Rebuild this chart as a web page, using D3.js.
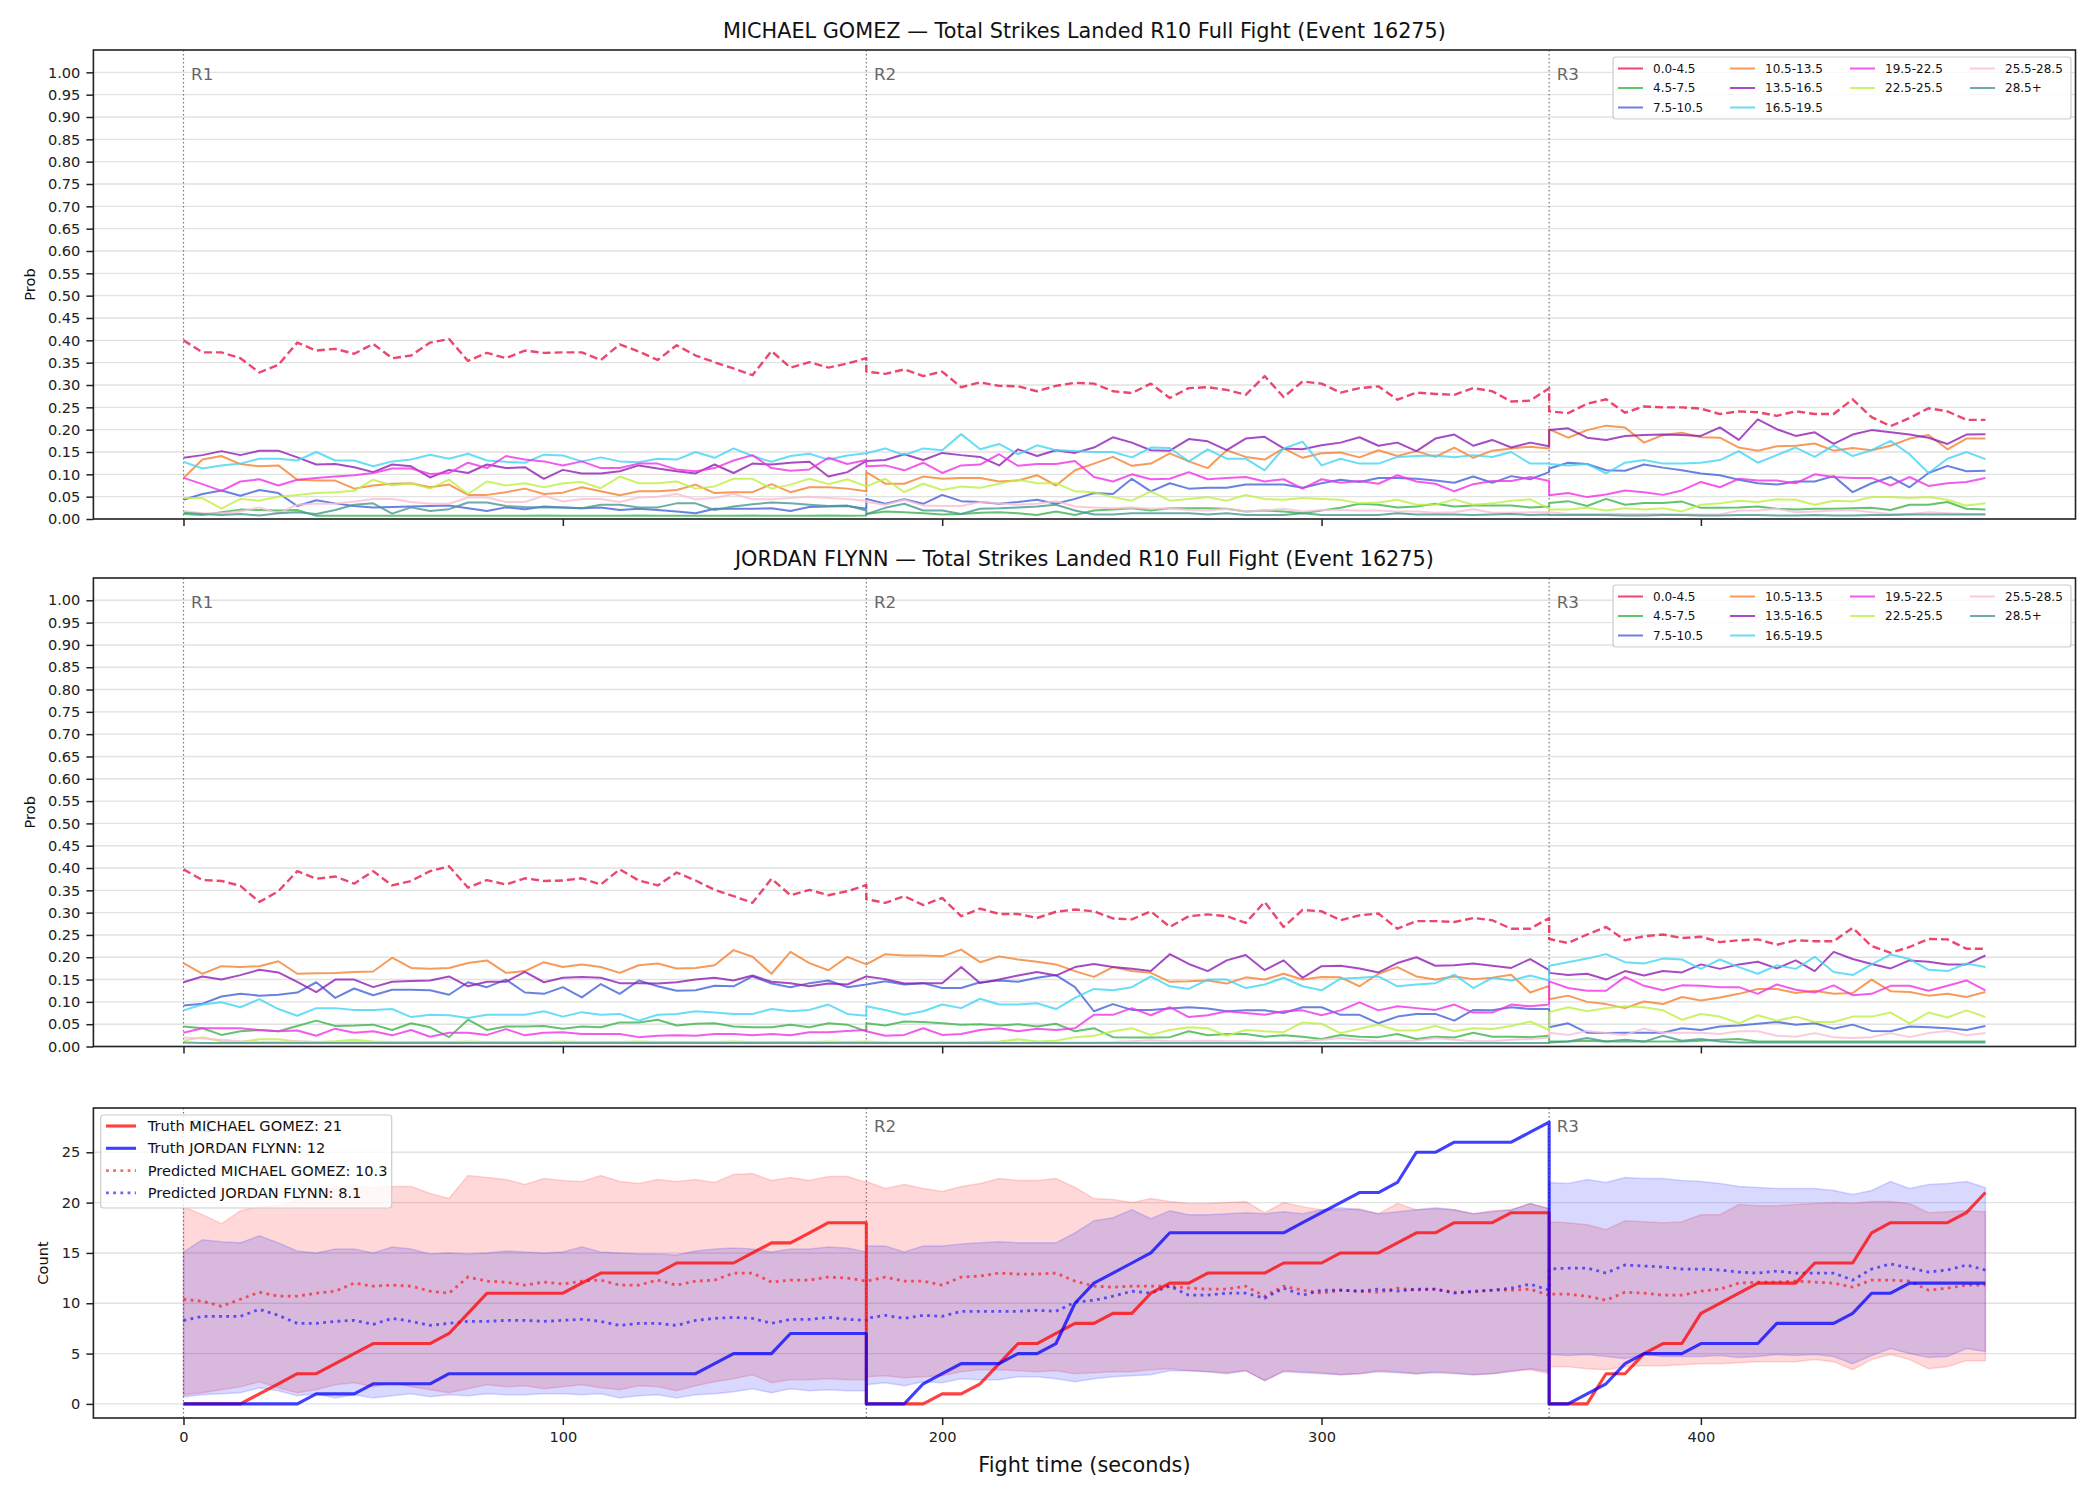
<!DOCTYPE html>
<html lang="en">
<head>
<meta charset="UTF-8">
<title>Total Strikes Landed R10 Full Fight</title>
<script src="https://d3js.org/d3.v7.min.js"></script>
<style>
  body { margin: 0; background: #fff; }
  svg { display: block; font-family: "DejaVu Sans", sans-serif; }
</style>
</head>
<body>
<div id="chart"></div>
<script>
// fight time (s); round boundaries appear twice so the lines drop at 180 and 360
const TIME = [
  0,5,10,15,20,25,30,35,40,45,50,55,60,65,70,75,80,85,90,95,100,105,110,115,120,125,130,135,140,145,150,155,160,165,170,175,180,
  180,185,190,195,200,205,210,215,220,225,230,235,240,245,250,255,260,265,270,275,280,285,290,295,300,305,310,315,320,325,330,335,340,345,350,355,360,
  360,365,370,375,380,385,390,395,400,405,410,415,420,425,430,435,440,445,450,455,460,465,470,475
];

const BUCKETS = ["0.0-4.5", "4.5-7.5", "7.5-10.5", "10.5-13.5", "13.5-16.5", "16.5-19.5", "19.5-22.5", "22.5-25.5", "25.5-28.5", "28.5+"];
const BUCKET_COLORS = ["#e6194b", "#3cb44b", "#4363d8", "#f58231", "#911eb4", "#42d4f4", "#f032e6", "#bfef45", "#fabed4", "#469990"];

const TITLES = [
  "MICHAEL GOMEZ \u2014 Total Strikes Landed R10 Full Fight (Event 16275)",
  "JORDAN FLYNN \u2014 Total Strikes Landed R10 Full Fight (Event 16275)"
];
const ROUNDS = [0, 180, 360];
const ROUND_LABELS = ["R1", "R2", "R3"];
const TIME_TICKS = [0, 100, 200, 300, 400];
const PROB_TICKS = [0, 0.05, 0.1, 0.15, 0.2, 0.25, 0.3, 0.35, 0.4, 0.45, 0.5, 0.55, 0.6, 0.65, 0.7, 0.75, 0.8, 0.85, 0.9, 0.95, 1.0];
const COUNT_TICKS = [0, 5, 10, 15, 20, 25];
const LEGEND3 = ["Truth MICHAEL GOMEZ: 21", "Truth JORDAN FLYNN: 12", "Predicted MICHAEL GOMEZ: 10.3", "Predicted JORDAN FLYNN: 8.1"];

// ---- MICHAEL GOMEZ bucket probabilities ----
const g_0_4 = [
  0.40,0.373,0.373,0.36,0.328,0.345,0.395,0.377,0.381,0.37,0.392,0.36,0.366,0.395,0.403,0.354,0.372,0.36,0.377,0.372,0.373,0.373,0.356,0.391,0.375,0.356,0.389,0.366,0.351,0.337,0.322,0.376,0.339,0.351,0.339,0.348,0.36,
  0.33,0.325,0.335,0.32,0.33,0.295,0.306,0.298,0.297,0.286,0.298,0.305,0.303,0.286,0.282,0.303,0.271,0.293,0.295,0.289,0.278,0.32,0.273,0.308,0.303,0.283,0.293,0.297,0.267,0.283,0.28,0.278,0.293,0.286,0.263,0.265,0.293,
  0.241,0.237,0.258,0.268,0.238,0.252,0.25,0.25,0.247,0.235,0.241,0.239,0.231,0.241,0.235,0.235,0.268,0.228,0.208,0.226,0.248,0.241,0.222,0.222
];
const g_4_7 = [
  0.011,0.009,0.015,0.021,0.02,0.019,0.02,0.007,0.007,0.007,0.007,0.007,0.007,0.007,0.007,0.007,0.007,0.007,0.007,0.008,0.007,0.007,0.007,0.007,0.008,0.007,0.007,0.007,0.007,0.007,0.008,0.007,0.007,0.007,0.008,0.007,0.008,
  0.011,0.017,0.015,0.013,0.01,0.011,0.014,0.015,0.013,0.009,0.017,0.009,0.019,0.021,0.024,0.019,0.024,0.024,0.024,0.023,0.017,0.019,0.017,0.013,0.019,0.025,0.034,0.032,0.026,0.028,0.034,0.028,0.03,0.03,0.03,0.026,0.028,
  0.036,0.04,0.029,0.045,0.032,0.036,0.036,0.039,0.025,0.025,0.026,0.028,0.023,0.021,0.023,0.023,0.024,0.025,0.02,0.032,0.032,0.038,0.023,0.021
];
const g_7_10 = [
  0.043,0.056,0.064,0.052,0.065,0.058,0.029,0.042,0.035,0.029,0.026,0.027,0.028,0.029,0.03,0.024,0.018,0.026,0.022,0.028,0.026,0.024,0.026,0.02,0.023,0.02,0.017,0.013,0.023,0.023,0.023,0.024,0.018,0.027,0.028,0.029,0.023,
  0.045,0.034,0.044,0.034,0.054,0.04,0.038,0.034,0.038,0.043,0.034,0.045,0.058,0.056,0.09,0.062,0.08,0.068,0.07,0.07,0.077,0.077,0.077,0.07,0.08,0.088,0.083,0.092,0.092,0.09,0.086,0.081,0.095,0.081,0.096,0.089,0.105,
  0.113,0.126,0.123,0.109,0.108,0.122,0.115,0.109,0.102,0.098,0.088,0.08,0.077,0.084,0.084,0.096,0.06,0.08,0.094,0.071,0.103,0.119,0.107,0.108
];
const g_10_13 = [
  0.092,0.133,0.141,0.123,0.118,0.12,0.088,0.086,0.086,0.068,0.075,0.079,0.08,0.071,0.077,0.054,0.054,0.06,0.068,0.056,0.059,0.071,0.062,0.053,0.062,0.062,0.065,0.077,0.058,0.06,0.06,0.078,0.06,0.071,0.071,0.068,0.062,
  0.105,0.079,0.079,0.095,0.09,0.092,0.092,0.084,0.086,0.098,0.075,0.109,0.124,0.139,0.119,0.124,0.147,0.129,0.114,0.154,0.139,0.133,0.158,0.137,0.147,0.149,0.138,0.154,0.141,0.152,0.139,0.16,0.137,0.153,0.158,0.162,0.158,
  0.201,0.182,0.199,0.209,0.205,0.171,0.188,0.193,0.183,0.182,0.16,0.153,0.163,0.164,0.169,0.153,0.159,0.154,0.164,0.18,0.188,0.156,0.18,0.18
];
const g_13_16 = [
  0.137,0.143,0.152,0.143,0.153,0.153,0.138,0.122,0.123,0.116,0.105,0.122,0.118,0.093,0.11,0.103,0.122,0.114,0.116,0.09,0.11,0.102,0.102,0.107,0.12,0.113,0.107,0.102,0.122,0.103,0.124,0.122,0.126,0.128,0.095,0.105,0.13,
  0.13,0.132,0.145,0.132,0.148,0.143,0.139,0.12,0.156,0.141,0.154,0.148,0.16,0.183,0.171,0.154,0.153,0.179,0.174,0.154,0.18,0.184,0.158,0.156,0.165,0.171,0.183,0.164,0.171,0.152,0.18,0.189,0.164,0.177,0.16,0.171,0.163,
  0.199,0.203,0.182,0.177,0.186,0.188,0.189,0.188,0.186,0.205,0.177,0.223,0.201,0.186,0.194,0.168,0.189,0.199,0.194,0.189,0.182,0.168,0.189,0.19
];
const g_16_19 = [
  0.128,0.113,0.12,0.124,0.135,0.135,0.131,0.15,0.131,0.131,0.118,0.129,0.133,0.144,0.135,0.146,0.131,0.128,0.126,0.144,0.142,0.129,0.138,0.129,0.127,0.135,0.133,0.15,0.137,0.158,0.141,0.128,0.141,0.146,0.133,0.142,0.147,
  0.147,0.158,0.143,0.158,0.154,0.19,0.156,0.168,0.145,0.165,0.154,0.152,0.15,0.15,0.138,0.16,0.159,0.129,0.156,0.135,0.135,0.109,0.158,0.173,0.12,0.135,0.124,0.124,0.139,0.141,0.142,0.138,0.143,0.139,0.15,0.124,0.124,
  0.123,0.12,0.123,0.102,0.126,0.132,0.124,0.124,0.126,0.132,0.152,0.126,0.143,0.16,0.139,0.165,0.141,0.154,0.175,0.145,0.103,0.135,0.15,0.134
];
const g_19_22 = [
  0.092,0.078,0.063,0.084,0.089,0.075,0.088,0.092,0.095,0.098,0.103,0.113,0.113,0.101,0.103,0.126,0.114,0.141,0.133,0.129,0.12,0.129,0.114,0.114,0.124,0.124,0.111,0.107,0.114,0.131,0.143,0.114,0.108,0.111,0.137,0.123,0.132,
  0.118,0.12,0.109,0.126,0.103,0.12,0.122,0.145,0.119,0.123,0.123,0.13,0.094,0.084,0.1,0.089,0.09,0.105,0.089,0.092,0.094,0.084,0.089,0.068,0.089,0.081,0.085,0.079,0.098,0.084,0.079,0.062,0.078,0.085,0.085,0.094,0.085,
  0.053,0.058,0.049,0.055,0.064,0.06,0.054,0.064,0.083,0.071,0.09,0.086,0.086,0.08,0.1,0.094,0.092,0.092,0.075,0.094,0.074,0.08,0.083,0.092
];
const g_22_25 = [
  0.047,0.047,0.023,0.045,0.041,0.05,0.054,0.058,0.06,0.063,0.088,0.075,0.08,0.068,0.088,0.056,0.084,0.075,0.08,0.071,0.08,0.083,0.069,0.095,0.08,0.08,0.084,0.068,0.073,0.09,0.09,0.068,0.077,0.09,0.078,0.089,0.073,
  0.073,0.09,0.06,0.079,0.065,0.073,0.07,0.079,0.088,0.08,0.08,0.062,0.06,0.049,0.041,0.062,0.041,0.045,0.049,0.041,0.054,0.045,0.043,0.047,0.045,0.043,0.035,0.037,0.043,0.032,0.032,0.044,0.032,0.035,0.041,0.044,0.023,
  0.021,0.021,0.025,0.019,0.024,0.021,0.024,0.017,0.032,0.035,0.041,0.038,0.044,0.043,0.032,0.041,0.039,0.049,0.049,0.047,0.049,0.043,0.03,0.035
];
const g_25_28 = [
  0.018,0.013,0.013,0.017,0.026,0.013,0.032,0.034,0.034,0.039,0.045,0.045,0.038,0.034,0.034,0.048,0.048,0.038,0.038,0.052,0.039,0.045,0.045,0.038,0.048,0.05,0.056,0.044,0.047,0.056,0.044,0.044,0.047,0.05,0.047,0.045,0.041,
  0.038,0.032,0.043,0.03,0.029,0.029,0.038,0.035,0.032,0.034,0.04,0.028,0.026,0.024,0.026,0.023,0.024,0.02,0.019,0.023,0.017,0.019,0.023,0.017,0.02,0.02,0.019,0.019,0.017,0.017,0.014,0.015,0.022,0.014,0.014,0.015,0.015,
  0.015,0.011,0.011,0.011,0.011,0.011,0.011,0.01,0.01,0.01,0.019,0.019,0.023,0.015,0.017,0.019,0.02,0.015,0.011,0.011,0.015,0.013,0.011,0.011
];
const g_28p = [
  0.014,0.011,0.009,0.011,0.008,0.013,0.015,0.011,0.02,0.032,0.035,0.012,0.026,0.018,0.022,0.037,0.037,0.029,0.027,0.026,0.026,0.024,0.032,0.032,0.026,0.026,0.035,0.035,0.02,0.028,0.033,0.037,0.035,0.032,0.029,0.03,0.019,
  0.011,0.025,0.034,0.019,0.019,0.011,0.023,0.024,0.026,0.028,0.032,0.019,0.01,0.01,0.013,0.013,0.013,0.013,0.01,0.013,0.009,0.009,0.009,0.013,0.009,0.009,0.009,0.009,0.013,0.01,0.01,0.01,0.009,0.01,0.011,0.009,0.01,
  0.009,0.009,0.009,0.009,0.008,0.008,0.009,0.009,0.008,0.008,0.009,0.009,0.008,0.008,0.009,0.008,0.008,0.009,0.009,0.01,0.01,0.01,0.01,0.01
];

// ---- JORDAN FLYNN bucket probabilities ----
const f_0_4 = [
  0.397,0.373,0.371,0.36,0.324,0.348,0.393,0.376,0.381,0.365,0.393,0.361,0.371,0.393,0.404,0.356,0.373,0.363,0.377,0.371,0.372,0.377,0.363,0.397,0.372,0.361,0.39,0.372,0.351,0.337,0.322,0.376,0.339,0.351,0.339,0.348,0.362,
  0.33,0.322,0.337,0.317,0.333,0.292,0.309,0.297,0.297,0.288,0.302,0.307,0.303,0.287,0.285,0.303,0.268,0.292,0.296,0.292,0.277,0.324,0.268,0.306,0.303,0.283,0.294,0.298,0.264,0.281,0.281,0.279,0.288,0.283,0.264,0.264,0.288,
  0.241,0.232,0.251,0.268,0.238,0.247,0.251,0.243,0.246,0.234,0.238,0.24,0.228,0.238,0.236,0.236,0.266,0.225,0.21,0.223,0.241,0.24,0.219,0.219
];
const f_4_7 = [
  0.045,0.041,0.026,0.034,0.037,0.034,0.046,0.058,0.046,0.047,0.049,0.037,0.052,0.043,0.021,0.06,0.037,0.045,0.045,0.046,0.04,0.045,0.043,0.054,0.054,0.06,0.047,0.051,0.052,0.045,0.043,0.043,0.049,0.043,0.052,0.049,0.034,
  0.052,0.047,0.056,0.055,0.052,0.049,0.05,0.047,0.05,0.045,0.051,0.034,0.041,0.021,0.02,0.02,0.021,0.034,0.025,0.028,0.028,0.022,0.025,0.022,0.017,0.026,0.022,0.021,0.028,0.017,0.022,0.02,0.031,0.022,0.022,0.021,0.024,
  0.011,0.011,0.013,0.011,0.011,0.011,0.011,0.011,0.013,0.015,0.017,0.011,0.011,0.011,0.011,0.011,0.011,0.011,0.011,0.011,0.011,0.011,0.011,0.011
];
const f_7_10 = [
  0.092,0.096,0.112,0.118,0.114,0.116,0.121,0.144,0.109,0.13,0.115,0.127,0.127,0.126,0.116,0.144,0.133,0.15,0.121,0.118,0.133,0.11,0.14,0.118,0.148,0.135,0.125,0.126,0.136,0.135,0.157,0.141,0.133,0.142,0.148,0.133,0.139,
  0.139,0.146,0.139,0.142,0.131,0.131,0.144,0.148,0.145,0.154,0.16,0.133,0.079,0.095,0.082,0.082,0.085,0.088,0.085,0.079,0.081,0.081,0.075,0.088,0.088,0.071,0.071,0.052,0.067,0.073,0.073,0.058,0.082,0.081,0.088,0.084,0.084,
  0.043,0.052,0.031,0.03,0.031,0.031,0.031,0.041,0.037,0.045,0.047,0.051,0.055,0.049,0.052,0.04,0.049,0.035,0.034,0.045,0.043,0.041,0.037,0.046
];
const f_10_13 = [
  0.187,0.163,0.18,0.178,0.18,0.191,0.163,0.164,0.165,0.167,0.168,0.199,0.176,0.174,0.176,0.187,0.193,0.165,0.169,0.189,0.178,0.184,0.178,0.165,0.182,0.186,0.175,0.176,0.182,0.216,0.201,0.163,0.212,0.187,0.171,0.201,0.184,
  0.184,0.207,0.204,0.204,0.202,0.217,0.189,0.202,0.195,0.19,0.184,0.169,0.156,0.178,0.169,0.165,0.145,0.146,0.148,0.141,0.155,0.15,0.163,0.15,0.156,0.155,0.135,0.163,0.178,0.157,0.15,0.157,0.151,0.154,0.161,0.121,0.136,
  0.106,0.114,0.1,0.095,0.086,0.101,0.095,0.111,0.103,0.11,0.118,0.129,0.129,0.12,0.125,0.118,0.12,0.15,0.124,0.122,0.114,0.118,0.111,0.122
];
const f_13_16 = [
  0.144,0.157,0.15,0.16,0.172,0.166,0.145,0.122,0.15,0.15,0.133,0.145,0.147,0.148,0.157,0.135,0.145,0.145,0.167,0.144,0.154,0.156,0.154,0.142,0.142,0.141,0.144,0.15,0.154,0.148,0.159,0.145,0.142,0.135,0.141,0.139,0.157,
  0.157,0.151,0.141,0.142,0.142,0.178,0.142,0.15,0.159,0.167,0.159,0.178,0.185,0.178,0.174,0.169,0.207,0.185,0.169,0.193,0.205,0.171,0.193,0.154,0.18,0.181,0.175,0.166,0.187,0.2,0.181,0.182,0.186,0.181,0.176,0.196,0.171,
  0.165,0.16,0.163,0.15,0.169,0.159,0.169,0.166,0.184,0.174,0.184,0.19,0.175,0.193,0.169,0.212,0.196,0.185,0.175,0.193,0.19,0.184,0.184,0.204
];
const f_16_19 = [
  0.081,0.094,0.099,0.088,0.106,0.084,0.069,0.086,0.086,0.082,0.082,0.084,0.066,0.071,0.07,0.064,0.071,0.071,0.071,0.079,0.067,0.077,0.071,0.073,0.058,0.071,0.073,0.079,0.076,0.073,0.073,0.084,0.079,0.082,0.094,0.073,0.069,
  0.09,0.082,0.071,0.079,0.094,0.086,0.107,0.094,0.094,0.097,0.084,0.109,0.129,0.126,0.133,0.157,0.135,0.129,0.15,0.15,0.131,0.139,0.154,0.135,0.126,0.152,0.154,0.157,0.135,0.139,0.142,0.161,0.131,0.154,0.148,0.159,0.148,
  0.181,0.189,0.197,0.207,0.189,0.186,0.197,0.195,0.174,0.195,0.178,0.163,0.182,0.174,0.201,0.167,0.16,0.184,0.206,0.196,0.172,0.169,0.186,0.178
];
const f_19_22 = [
  0.031,0.041,0.041,0.041,0.037,0.034,0.036,0.024,0.04,0.031,0.034,0.025,0.037,0.022,0.031,0.031,0.026,0.039,0.025,0.031,0.032,0.028,0.028,0.028,0.021,0.024,0.025,0.024,0.028,0.028,0.025,0.028,0.025,0.032,0.032,0.035,0.037,
  0.034,0.024,0.026,0.041,0.026,0.028,0.037,0.041,0.034,0.04,0.037,0.041,0.071,0.071,0.086,0.07,0.088,0.066,0.07,0.079,0.075,0.071,0.079,0.081,0.07,0.081,0.099,0.081,0.09,0.086,0.082,0.094,0.076,0.076,0.094,0.09,0.094,
  0.146,0.131,0.125,0.125,0.156,0.136,0.126,0.137,0.136,0.133,0.133,0.118,0.139,0.127,0.121,0.137,0.115,0.118,0.136,0.136,0.125,0.136,0.148,0.126
];
const f_22_25 = [
  0.013,0.021,0.011,0.01,0.016,0.016,0.011,0.01,0.012,0.015,0.011,0.01,0.01,0.01,0.01,0.011,0.01,0.01,0.01,0.01,0.011,0.01,0.01,0.01,0.011,0.01,0.01,0.01,0.01,0.011,0.01,0.01,0.01,0.01,0.011,0.01,0.011,
  0.011,0.009,0.009,0.009,0.009,0.009,0.01,0.011,0.016,0.011,0.013,0.021,0.024,0.034,0.041,0.026,0.037,0.043,0.041,0.024,0.037,0.034,0.032,0.054,0.051,0.03,0.04,0.049,0.036,0.036,0.046,0.034,0.041,0.039,0.046,0.056,0.037,
  0.077,0.088,0.079,0.086,0.09,0.088,0.081,0.06,0.073,0.067,0.052,0.07,0.058,0.067,0.055,0.055,0.067,0.067,0.076,0.052,0.076,0.065,0.081,0.066
];
const f_25_28 = [
  0.02,0.018,0.015,0.012,0.01,0.01,0.012,0.01,0.01,0.01,0.01,0.009,0.009,0.01,0.009,0.009,0.01,0.009,0.009,0.009,0.01,0.009,0.009,0.01,0.009,0.009,0.01,0.009,0.009,0.009,0.009,0.009,0.01,0.009,0.009,0.01,0.01,
  0.01,0.009,0.009,0.009,0.009,0.009,0.009,0.009,0.009,0.009,0.009,0.009,0.009,0.01,0.012,0.014,0.012,0.012,0.013,0.012,0.012,0.01,0.01,0.012,0.015,0.019,0.015,0.012,0.012,0.013,0.019,0.015,0.012,0.012,0.015,0.017,0.02,
  0.031,0.026,0.035,0.03,0.026,0.04,0.031,0.031,0.031,0.028,0.034,0.034,0.024,0.022,0.03,0.021,0.019,0.021,0.03,0.021,0.03,0.035,0.025,0.03
];
const f_28p = [
  0.009,0.008,0.008,0.008,0.008,0.008,0.008,0.008,0.008,0.008,0.008,0.008,0.008,0.008,0.008,0.008,0.008,0.008,0.008,0.008,0.008,0.008,0.008,0.008,0.008,0.008,0.008,0.008,0.008,0.008,0.008,0.008,0.008,0.008,0.008,0.008,0.008,
  0.008,0.008,0.008,0.008,0.008,0.008,0.008,0.008,0.008,0.008,0.008,0.008,0.008,0.008,0.008,0.008,0.008,0.008,0.008,0.008,0.008,0.008,0.008,0.008,0.008,0.008,0.008,0.008,0.008,0.008,0.008,0.008,0.008,0.008,0.008,0.008,0.008,
  0.009,0.011,0.019,0.011,0.015,0.011,0.024,0.013,0.017,0.011,0.009,0.009,0.009,0.009,0.009,0.009,0.009,0.009,0.009,0.009,0.009,0.009,0.009,0.009
];

// ---- running counts (reset each round) ----
const truthGomez = [
  0,0,0,0,1,2,3,3,4,5,6,6,6,6,7,9,11,11,11,11,11,12,13,13,13,13,14,14,14,14,15,16,16,17,18,18,18,
  0,0,0,0,1,1,2,4,6,6,7,8,8,9,9,11,12,12,13,13,13,13,14,14,14,15,15,15,16,17,17,18,18,18,19,19,19,
  0,0,0,3,3,5,6,6,9,10,11,12,12,12,14,14,14,17,18,18,18,18,19,21
];
const truthFlynn = [
  0,0,0,0,0,0,0,1,1,1,2,2,2,2,3,3,3,3,3,3,3,3,3,3,3,3,3,3,4,5,5,5,7,7,7,7,7,
  0,0,0,2,3,4,4,4,5,5,6,10,12,13,14,15,17,17,17,17,17,17,17,18,19,20,21,21,22,25,25,26,26,26,26,27,28,
  0,0,1,2,4,5,5,5,6,6,6,6,8,8,8,8,9,11,11,12,12,12,12,12
];
const predGomez = [
  10.4,10.2,9.7,10.4,11.1,10.7,10.7,11.0,11.2,12.0,11.7,11.8,11.7,11.2,11.0,12.6,12.2,12.1,11.8,12.1,11.9,12.2,12.3,11.8,11.8,12.3,11.8,12.2,12.3,13.0,13.0,12.1,12.3,12.3,12.6,12.5,12.2,
  12.2,12.6,12.2,12.2,11.8,12.6,12.7,13.0,12.9,12.9,13.0,12.2,11.7,11.6,11.7,11.7,11.7,11.5,11.4,11.4,11.7,10.7,11.7,11.3,11.0,11.3,11.2,11.1,11.5,11.3,11.4,11.1,11.1,11.3,11.3,11.4,10.8,
  10.9,10.9,10.7,10.3,11.1,11.0,10.8,10.8,11.2,11.4,12.0,12.1,12.1,12.2,12.1,12.0,11.6,12.3,12.3,12.2,11.3,11.5,11.8,11.8
];
const predFlynn = [
  8.3,8.7,8.7,8.7,9.4,8.8,8.0,8.0,8.2,8.3,7.9,8.5,8.2,7.8,8.0,8.2,8.2,8.3,8.3,8.2,8.3,8.4,8.2,7.8,8.0,8.0,7.8,8.3,8.5,8.6,8.5,8.0,8.4,8.4,8.6,8.4,8.3,
  8.5,8.8,8.5,8.8,8.7,9.2,9.2,9.2,9.2,9.3,9.2,10.1,10.3,10.7,11.2,11.0,11.7,10.8,10.8,11.0,11.0,10.5,11.5,10.8,11.3,11.3,11.2,11.4,11.2,11.4,11.4,11.0,11.2,11.3,11.5,11.9,11.3,
  13.4,13.5,13.5,13.0,13.8,13.7,13.6,13.4,13.4,13.3,13.1,13.0,13.2,13.0,13.0,13.0,12.3,13.4,13.9,13.5,13.1,13.3,13.8,13.3
];
const gomezHi = [
  19.6,18.8,17.9,19.2,19.6,19.7,20.3,21.1,21.6,21.6,21.5,21.6,21.6,20.9,20.4,22.7,22.5,22.3,21.8,22.4,22.2,22.1,22.7,22.1,21.9,22.3,22.1,22.3,22.0,22.8,22.9,22.2,22.5,22.2,22.6,22.6,22.0,
  22.1,21.4,21.8,21.4,21.1,21.6,21.9,22.4,22.2,22.2,22.4,21.5,20.4,20.3,20.0,20.4,20.1,19.9,19.9,20.0,20.1,19.0,20.0,19.6,19.3,19.3,19.4,18.9,19.9,19.3,19.4,19.3,18.9,19.2,19.3,19.9,19.4,
  18.1,18.0,17.8,17.3,18.2,18.1,18.0,18.1,18.8,18.8,19.8,19.7,19.7,19.8,19.9,20.0,19.9,20.1,20.1,19.9,19.0,19.1,19.2,19.1
];
const gomezLo = [
  0.9,1.1,1.4,1.7,2.2,1.6,1.1,1.4,1.9,2.1,1.7,2.1,1.7,1.4,1.1,1.5,1.9,1.7,1.8,1.5,1.7,1.9,1.6,1.4,1.8,1.7,1.3,1.8,2.2,2.5,2.9,2.1,2.4,2.4,2.5,2.4,2.4,
  2.7,2.8,2.6,2.7,2.8,3.2,3.4,3.4,3.3,3.2,3.3,3.0,3.1,3.2,3.2,3.4,3.5,3.3,3.2,3.1,3.3,2.3,3.3,3.2,3.1,2.9,3.0,3.3,3.2,3.0,3.2,3.1,2.9,3.0,3.3,3.4,3.0,
  3.7,3.7,3.5,3.4,3.7,3.8,3.8,3.9,4.0,4.0,4.1,4.2,4.2,4.2,4.4,4.2,3.4,4.4,4.9,4.4,3.5,3.7,4.3,4.3
];
const flynnHi = [
  15.1,16.3,16.1,16.0,16.7,16.0,15.2,15.0,15.4,15.4,15.0,15.6,15.4,14.9,15.0,14.9,15.0,15.2,15.1,15.0,15.1,15.6,15.1,15.0,14.9,14.9,14.8,15.2,15.4,15.5,15.4,15.1,15.4,15.4,15.6,15.5,15.1,
  15.7,15.7,15.1,15.7,15.7,15.9,16.0,16.1,16.0,16.0,16.0,17.0,18.2,18.5,19.3,18.4,19.2,18.8,18.8,18.9,19.0,18.9,19.1,18.9,19.3,19.5,19.3,18.9,19.1,19.3,19.5,19.3,18.9,19.1,19.3,19.9,19.4,
  22.0,21.9,22.3,22.0,22.5,22.4,22.4,22.2,22.1,21.9,21.6,21.5,21.4,21.4,21.4,21.2,20.8,21.2,22.1,21.4,21.8,21.9,22.1,21.5
];
const flynnLo = [
  0.7,0.9,1.0,1.1,1.6,1.3,0.8,1.0,0.6,0.9,0.6,0.8,1.0,0.7,0.9,0.8,1.0,0.9,0.9,1.0,1.0,0.9,1.0,0.6,0.8,0.9,0.6,0.9,1.0,1.2,1.5,1.1,1.5,1.3,1.4,1.3,1.3,
  1.9,2.1,1.8,2.2,2.1,2.5,2.4,2.4,2.7,2.7,2.5,2.2,2.5,2.7,2.8,2.9,3.3,3.3,3.2,3.0,3.3,2.3,3.2,3.1,3.0,2.9,3.0,3.2,3.1,3.0,3.1,3.0,2.9,3.0,3.2,3.5,3.2,
  4.9,4.8,4.9,4.7,4.5,4.9,4.7,4.7,4.7,4.8,4.6,4.7,4.9,4.8,4.9,4.7,4.0,4.8,5.5,5.0,4.6,4.7,5.5,5.2
];

const gomezSeries = [g_0_4, g_4_7, g_7_10, g_10_13, g_13_16, g_16_19, g_19_22, g_22_25, g_25_28, g_28p];
const flynnSeries = [f_0_4, f_4_7, f_7_10, f_10_13, f_13_16, f_16_19, f_19_22, f_22_25, f_25_28, f_28p];

// ---------------- layout ----------------
const W = 2100, H = 1500;
const LEFT = 93.4, RIGHT = 2075.5;
const FONT_TICK = 14.6;

const svg = d3.select("#chart").append("svg").attr("width", W).attr("height", H);
svg.append("rect").attr("width", W).attr("height", H).attr("fill", "#fff");

const x = d3.scaleLinear().domain([-23.75, 498.75]).range([LEFT, RIGHT]);
const pairs = vals => TIME.map((t, i) => [t, vals[i]]);
const lineGen = y => d3.line()
  .defined(d => d[0] != null && d[1] != null)
  .x(d => x(d[0])).y(d => y(d[1]));

function frame(g, y, top, bottom, yTicks, fmt, showXLabels) {
  // horizontal grid
  g.append("g").selectAll("line").data(yTicks).enter().append("line")
    .attr("x1", LEFT).attr("x2", RIGHT)
    .attr("y1", d => y(d)).attr("y2", d => y(d))
    .attr("stroke", "#e2e2e2").attr("stroke-width", 1.4);

  // round separators
  g.append("g").selectAll("line").data(ROUNDS).enter().append("line")
    .attr("x1", d => x(d)).attr("x2", d => x(d))
    .attr("y1", top).attr("y2", bottom)
    .attr("stroke", "#777").attr("stroke-width", 1.2)
    .attr("stroke-dasharray", "1.5,2.5");
}

function spinesAndAxes(g, y, top, bottom, yTicks, fmt, showXLabels) {
  g.append("rect").attr("x", LEFT).attr("y", top)
    .attr("width", RIGHT - LEFT).attr("height", bottom - top)
    .attr("fill", "none").attr("stroke", "#222").attr("stroke-width", 1.6);

  const ya = g.append("g").attr("transform", `translate(${LEFT},0)`)
    .call(d3.axisLeft(y).tickValues(yTicks).tickFormat(fmt).tickSize(7).tickPadding(6).tickSizeOuter(0));
  ya.select(".domain").remove();
  ya.attr("font-family", null).attr("font-size", FONT_TICK).attr("color", "#222");
  ya.selectAll("line").attr("stroke-width", 1.5);

  const xa = g.append("g").attr("transform", `translate(0,${bottom})`)
    .call(d3.axisBottom(x).tickValues(TIME_TICKS).tickSize(7).tickPadding(7).tickSizeOuter(0));
  xa.select(".domain").remove();
  xa.attr("font-family", null).attr("font-size", FONT_TICK).attr("color", "#222");
  xa.selectAll("line").attr("stroke-width", 1.5);
  if (!showXLabels) xa.selectAll("text").remove();
}

function roundLabels(g, yTop) {
  g.append("g").selectAll("text").data(ROUNDS).enter().append("text")
    .attr("x", d => x(d + 2))
    .attr("y", yTop + 15.5)
    .attr("font-size", 16.7)
    .attr("fill", "#666")
    .text((d, i) => ROUND_LABELS[i]);
}

// ---------------- probability panels ----------------
const LEG_COL = [0, 0, 0, 1, 1, 1, 2, 2, 3, 3];
const LEG_ROW = [0, 1, 2, 0, 1, 2, 0, 1, 0, 1];
const LEG_COLX = [1618, 1730, 1850, 1970];

function probPanel(series, title, top, bottom) {
  const g = svg.append("g");
  const y = d3.scaleLinear().domain([0, 1.05]).range([bottom, top]);
  const fmt = d3.format(".2f");
  frame(g, y, top, bottom, PROB_TICKS);

  series.forEach((vals, i) => {
    g.append("path")
      .attr("d", lineGen(y)(pairs(vals)))
      .attr("fill", "none")
      .attr("stroke", BUCKET_COLORS[i])
      .attr("stroke-opacity", 0.8)
      .attr("stroke-width", i === 0 ? 2.4 : 2)
      .attr("stroke-dasharray", i === 0 ? "8,4" : null)
      .attr("stroke-linejoin", "round");
  });

  spinesAndAxes(g, y, top, bottom, PROB_TICKS, fmt, false);
  roundLabels(g, y(1.05 * 0.97));

  g.append("text").attr("x", (LEFT + RIGHT) / 2).attr("y", top - 12.5)
    .attr("text-anchor", "middle").attr("font-size", 20.8).attr("fill", "#111")
    .text(title);

  g.append("text")
    .attr("transform", `translate(29.5,${(top + bottom) / 2}) rotate(-90)`)
    .attr("text-anchor", "middle").attr("dy", "0.35em")
    .attr("font-size", FONT_TICK).attr("fill", "#111").text("Prob");

  // legend
  const lg = g.append("g");
  lg.append("rect").attr("x", 1613).attr("y", top + 7).attr("width", 458).attr("height", 62)
    .attr("rx", 3).attr("fill", "#fff").attr("fill-opacity", 0.8)
    .attr("stroke", "#cccccc").attr("stroke-width", 1.2);
  BUCKETS.forEach((b, i) => {
    const lx = LEG_COLX[LEG_COL[i]];
    const ly = top + 18.5 + LEG_ROW[i] * 19.5;
    lg.append("line").attr("x1", lx).attr("x2", lx + 25).attr("y1", ly).attr("y2", ly)
      .attr("stroke", BUCKET_COLORS[i]).attr("stroke-opacity", 0.8).attr("stroke-width", 2);
    lg.append("text").attr("x", lx + 35).attr("y", ly).attr("dy", "0.35em")
      .attr("font-size", 12).attr("fill", "#111").text(b);
  });
}

probPanel(gomezSeries, TITLES[0], 50, 519);
probPanel(flynnSeries, TITLES[1], 578, 1046.5);

// ---------------- count panel ----------------
(function countPanel() {
  const top = 1108, bottom = 1418;
  const g = svg.append("g");
  const y = d3.scaleLinear().domain([-1.4, 29.4]).range([bottom, top]);
  frame(g, y, top, bottom, COUNT_TICKS);

  const area = d3.area().x(d => x(d.t)).y0(d => y(d.lo)).y1(d => y(d.hi));
  const bandData = (lo, hi) => TIME.map((t, i) => ({ t: t, lo: lo[i], hi: hi[i] }));

  [[gomezLo, gomezHi, "#ff0000"], [flynnLo, flynnHi, "#0000ff"]].forEach(([lo, hi, c]) => {
    g.append("path").attr("d", area(bandData(lo, hi)))
      .attr("fill", c).attr("fill-opacity", 0.15)
      .attr("stroke", c).attr("stroke-opacity", 0.15).attr("stroke-width", 1.5);
  });

  [[predGomez, "#ff0000"], [predFlynn, "#0000ff"]].forEach(([vals, c]) => {
    g.append("path").attr("d", lineGen(y)(pairs(vals)))
      .attr("fill", "none").attr("stroke", c).attr("stroke-opacity", 0.6)
      .attr("stroke-width", 2.8).attr("stroke-dasharray", "2.8,4.4");
  });

  [[truthGomez, "#ff0000"], [truthFlynn, "#0000ff"]].forEach(([vals, c]) => {
    g.append("path").attr("d", lineGen(y)(pairs(vals)))
      .attr("fill", "none").attr("stroke", c).attr("stroke-opacity", 0.75)
      .attr("stroke-width", 3.1).attr("stroke-linejoin", "round");
  });

  spinesAndAxes(g, y, top, bottom, COUNT_TICKS, d3.format("d"), true);
  roundLabels(g, y(29.4 * 0.97));

  g.append("text")
    .attr("transform", `translate(43,${(top + bottom) / 2}) rotate(-90)`)
    .attr("text-anchor", "middle").attr("dy", "0.35em")
    .attr("font-size", FONT_TICK).attr("fill", "#111").text("Count");

  g.append("text").attr("x", (LEFT + RIGHT) / 2).attr("y", 1472)
    .attr("text-anchor", "middle").attr("font-size", 20.8).attr("fill", "#111")
    .text("Fight time (seconds)");

  // legend
  const lg = g.append("g");
  lg.append("rect").attr("x", 100.7).attr("y", top + 7).attr("width", 291).attr("height", 93)
    .attr("rx", 3).attr("fill", "#fff").attr("fill-opacity", 0.8)
    .attr("stroke", "#cccccc").attr("stroke-width", 1.2);
  const legStyle = [
    ["#ff0000", 0.75, null, 3.1], ["#0000ff", 0.75, null, 3.1],
    ["#ff0000", 0.6, "2.8,4.4", 2.8], ["#0000ff", 0.6, "2.8,4.4", 2.8]
  ];
  LEGEND3.forEach((label, i) => {
    const ly = top + 18 + i * 22.3;
    const s = legStyle[i];
    lg.append("line").attr("x1", 106).attr("x2", 136).attr("y1", ly).attr("y2", ly)
      .attr("stroke", s[0]).attr("stroke-opacity", s[1])
      .attr("stroke-dasharray", s[2]).attr("stroke-width", s[3]);
    lg.append("text").attr("x", 147.7).attr("y", ly).attr("dy", "0.35em")
      .attr("font-size", FONT_TICK).attr("fill", "#111").text(label);
  });
})();
</script>
</body>
</html>
